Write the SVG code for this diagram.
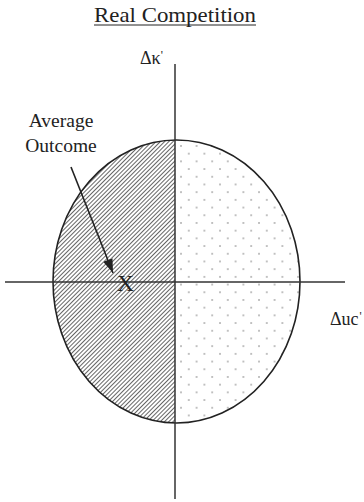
<svg xmlns="http://www.w3.org/2000/svg" width="364" height="502" viewBox="0 0 364 502">
<style>
text{font-family:"Liberation Serif","DejaVu Serif",serif;fill:#222}
.axis{stroke:#333;stroke-width:1.5;fill:none}
.shape{stroke:#222;stroke-width:1.6;fill:none}
</style>
<defs>
<pattern id="hatch" patternUnits="userSpaceOnUse" width="3" height="3" patternTransform="rotate(45)">
<line x1="0.5" y1="0" x2="0.5" y2="3" stroke="#555" stroke-width="0.9"/>
</pattern>
<pattern id="dots" patternUnits="userSpaceOnUse" x="180" y="145" width="15.6" height="15.4">
<circle cx="1" cy="1" r="0.75" fill="#666"/>
<circle cx="8.8" cy="8.7" r="0.75" fill="#666"/>
</pattern>
<clipPath id="ell"><ellipse cx="176.5" cy="281.5" rx="123.5" ry="141.5"/></clipPath>
<marker id="arr" markerWidth="14" markerHeight="10" refX="14" refY="5" orient="auto" markerUnits="userSpaceOnUse">
<path d="M0,0 L14,5 L0,10 Z" fill="#222"/>
</marker>
</defs>
<g id="region">
<g clip-path="url(#ell)">
<rect x="50" y="138" width="125" height="290" fill="url(#hatch)"/>
<rect x="175" y="138" width="128" height="290" fill="url(#dots)"/>
</g>
<ellipse class="shape" cx="176.5" cy="281.5" rx="123.5" ry="141.5"/>
</g>
<g id="connectors">
<line class="axis" x1="175" y1="64" x2="175" y2="499"/>
<line class="axis" x1="5" y1="282" x2="345" y2="282"/>
<line x1="71" y1="167" x2="113" y2="273" stroke="#222" stroke-width="1.6" marker-end="url(#arr)"/>
</g>
<g id="title">
<text x="94" y="22" font-size="21.5" textLength="162" lengthAdjust="spacingAndGlyphs">Real Competition</text>
<line x1="94" y1="25" x2="256" y2="25" stroke="#222" stroke-width="1"/>
</g>
<g id="label-k"><text x="140" y="64" font-size="18">Δκ<tspan dy="-5" font-size="12">'</tspan></text></g>
<g id="label-uc"><text x="330" y="325" font-size="18">Δuc<tspan dx="1" dy="-5" font-size="12">'</tspan></text></g>
<g id="label-avg">
<text x="61" y="127" font-size="19.5" text-anchor="middle">Average</text>
<text x="61" y="152" font-size="19.5" text-anchor="middle">Outcome</text>
</g>
<g id="label-x"><text x="117" y="291" font-size="23.5">X</text></g>
</svg>
